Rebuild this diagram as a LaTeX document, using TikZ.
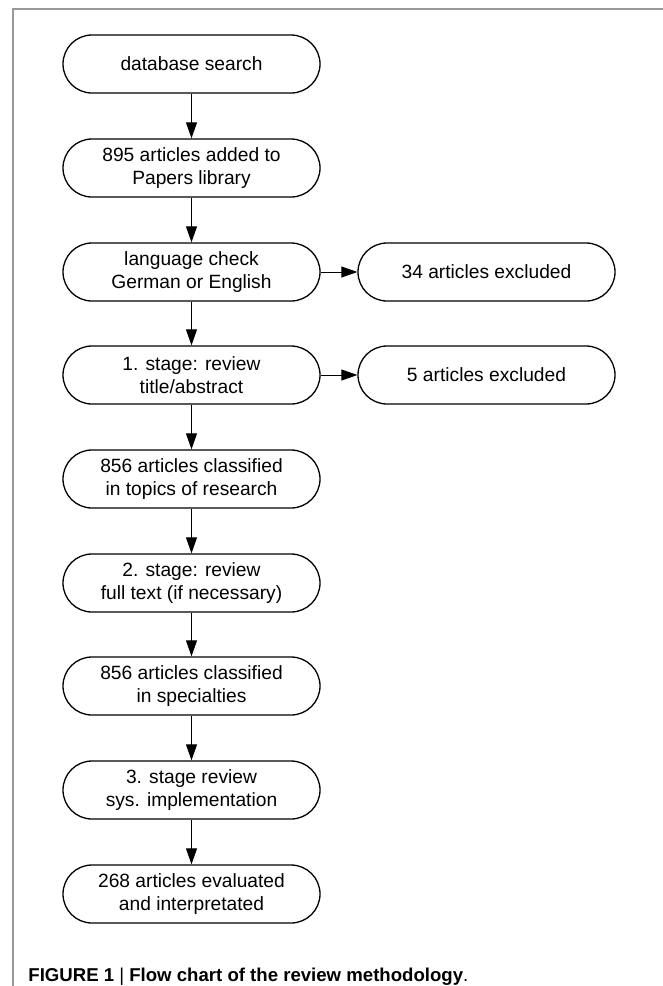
\documentclass[tikz,border=0pt]{standalone}
\usepackage{fontspec}
\setmainfont{Liberation Sans}
\usepackage{tikz}
\usetikzlibrary{arrows.meta, positioning}

\begin{document}
\begin{tikzpicture}[x=0.5pt, y=-0.5pt, >={Triangle[length=8pt, width=5.5pt]},
    buoc/.style={draw, line width=0.65pt, rounded corners=14.5pt,
        minimum width=128.5pt, minimum height=29pt, inner sep=0pt,
        align=center, font=\fontsize{9.6}{11.3}\selectfont},
    muiten/.style={->, line width=0.5pt}]
    \useasboundingbox (0,0) rectangle (663,986);

    % Khung
    \draw[black!40, line width=0.75pt] (13,990) -- (13,9) -- (670,9);

    % Các bước
    \node[buoc] (db)     at (191.5,64)  {database search};
    \node[buoc] (lib)    at (191.5,168) {895 articles added to\\Papers library};
    \node[buoc] (lang)   at (191.5,272) {language check\\German or English};
    \node[buoc] (st1)    at (191.5,375) {1. stage: review\\title/abstract};
    \node[buoc] (topics) at (191.5,479) {856 articles classified\\in topics of research};
    \node[buoc] (st2)    at (191.5,583) {2. stage: review\\full text (if necessary)};
    \node[buoc] (spec)   at (191.5,686) {856 articles classified\\in specialties};
    \node[buoc] (st3)    at (191.5,790) {3. stage review\\sys. implementation};
    \node[buoc] (eval)   at (191.5,894) {268 articles evaluated\\and interpretated};

    \node[buoc] (ex1) at (486.5,272) {34 articles excluded};
    \node[buoc] (ex2) at (486.5,375) {5 articles excluded};

    % Mũi tên
    \draw[muiten] (db) -- (lib);
    \draw[muiten] (lib) -- (lang);
    \draw[muiten] (lang) -- (st1);
    \draw[muiten] (st1) -- (topics);
    \draw[muiten] (topics) -- (st2);
    \draw[muiten] (st2) -- (spec);
    \draw[muiten] (spec) -- (st3);
    \draw[muiten] (st3) -- (eval);
    \draw[muiten] (lang) -- (ex1);
    \draw[muiten] (st1) -- (ex2);

    % Chú thích
    \node[anchor=base west, inner sep=0pt, font=\fontsize{9.3}{11}\selectfont] (cap) at (28,981)
        {\textbf{FIGURE 1} | \textbf{Flow chart of the review methodology}.};
\end{tikzpicture}
\end{document}
